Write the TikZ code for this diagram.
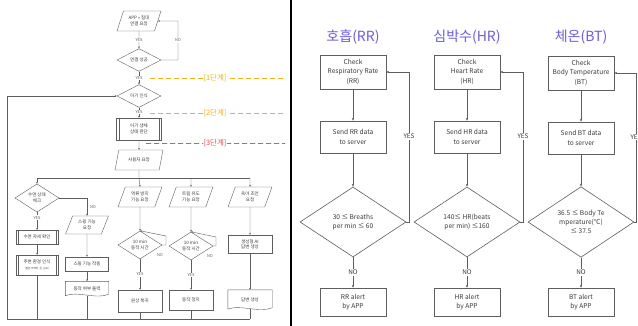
\documentclass[tikz,border=0pt]{standalone}
\usepackage{fontspec}
\setmainfont{Noto Sans CJK KR}
\usetikzlibrary{shapes.geometric,arrows.meta,calc}
\definecolor{ln}{HTML}{5E5E5E}
\definecolor{tx}{HTML}{3A3A3A}
\definecolor{pur}{HTML}{6A5CE6}
\definecolor{org}{HTML}{F5B21B}
\definecolor{rd}{HTML}{E8505A}
\newcommand{\docshape}[1]{\draw[lline] (#1.north west) -- (#1.north east) -- ([yshift=2.5pt]#1.south east) .. controls ([xshift=-12pt,yshift=-3pt]#1.south east) and ([xshift=12pt,yshift=6pt]#1.south west) .. ([yshift=1pt]#1.south west) -- cycle;}
\newcommand{\predefbox}[1]{\draw[lline] ([xshift=2.5pt]#1.north west) -- ([xshift=2.5pt]#1.south west); \draw[lline] ([xshift=-2.5pt]#1.north east) -- ([xshift=-2.5pt]#1.south east);}
\begin{document}
\begin{tikzpicture}[x=1pt,y=-1pt,
  lline/.style={draw=ln, line width=0.4pt},
  larr/.style={lline, -{Stealth[length=2pt,width=1.8pt]}},
  ltxt/.style={align=center, text=tx, font=\fontsize{4.5}{5.4}\selectfont, inner sep=0.3pt},
  lbox/.style={ltxt, lline, rectangle, minimum width=44pt},
  ldoc/.style={ltxt, rectangle, minimum width=44pt},
  para/.style={ltxt, lline, trapezium, trapezium left angle=66, trapezium right angle=114, trapezium stretches=true, minimum width=44pt, minimum height=20pt},
  dia/.style={ltxt, lline, diamond, minimum width=44pt, minimum height=18pt},
  ylab/.style={font=\fontsize{4}{4.5}\selectfont, text=ln, fill=white, inner sep=0.6pt},
  stage/.style={line width=0.85pt, dash pattern=on 4.5pt off 3.5pt},
  stlab/.style={font=\fontsize{7.4}{8}\selectfont, fill=white, inner sep=1pt},
  rline/.style={draw=ln, line width=0.6pt},
  rarr/.style={rline, -{Stealth[length=2.8pt,width=2.4pt]}},
  rbox/.style={rline, rectangle, minimum width=66pt, align=center, text=tx, font=\fontsize{6.6}{9.2}\selectfont},
  rdia/.style={rline, diamond, minimum width=106pt, minimum height=70pt, inner sep=0pt, align=center, text=tx, font=\fontsize{6.6}{9.2}\selectfont},
  rlab/.style={font=\fontsize{6.4}{7}\selectfont, text=tx, fill=white, inner sep=1pt},
  title/.style={font=\fontsize{14}{15}\selectfont, text=pur}
]
\useasboundingbox (0,0) rectangle (638,326);
\fill[white] (0,0) rectangle (638,326);

% ---------------- left panel ----------------
\node[para] (p1) at (139,21) {APP >> 침대\\연결 요청};
\node[dia, minimum height=17pt] (d1) at (139,60) {연결 성공};
\node[dia] (d2) at (139,96) {아기 인식};
\node[lbox, minimum width=45pt, minimum height=22pt] (b1) at (139,129) {아기 생체\\상태 판단};
\predefbox{b1}
\node[para, minimum width=48pt] (p2) at (139,160) {사용자 요청};

\draw[larr] (p1.south) -- (d1.north) node[midway, ylab] (yes1) {YES};
\draw[larr] (d1.east) -- (178,60) -- (178,21) node[midway, ylab] (no1) {NO} -- (p1.east);
\draw[larr] (d1.south) -- (d2.north) node[midway, ylab] (yes2) {YES};
\draw[larr] (d2.south) -- (b1.north) node[pos=0.45, ylab] (yes3) {YES};
\draw[larr] (b1.south) -- (p2.north);

\draw[stage, org] (150,78) -- (285,78);
\node[stlab, text=org] (s1) at (215,78) {[1단계]};
\draw[stage, org] (150,113) -- (285,113);
\node[stlab, text=org] (s2) at (215,113) {[2단계]};
\draw[stage, rd] (146,143) -- (285,143);
\node[stlab, text=rd] (s3) at (215,143) {[3단계]};

\coordinate (br0) at (139,178);
\coordinate (brL) at (37,178);
\coordinate (brR) at (250,178);
\draw[lline] (p2.south) -- (br0);
\draw[lline] (brL) -- (brR);

% column 1
\node[dia, minimum height=20pt] (d3) at (37,198) {수면 상태\\체크};
\node[lbox, minimum width=42pt, minimum height=14pt] (b2) at (37,237) {수면 자세 확인};
\predefbox{b2}
\node[lbox, minimum width=42pt, minimum height=20pt] (b3) at (37,265) {주변 환경 인식\\{\fontsize{2.6}{3}\selectfont (일반 카메라, 온·습도)}};
\predefbox{b3}
\draw[larr] (brL) -- (d3.north);
\draw[larr] (d3.south) -- (b2.north) node[pos=0.3, ylab] (yes4) {YES};
\draw[larr] (b2.south) -- (b3.north);

% column 2
\node[para, minimum width=43pt, minimum height=18pt] (p6) at (87,225) {스윙 기능\\요청};
\node[lbox, minimum width=43pt, minimum height=14pt] (b4) at (87,264) {스윙 기능 작동};
\node[ldoc, minimum width=43pt, minimum height=15pt] (doc1) at (87,289) {동작 여부 출력};
\docshape{doc1}
\draw[larr] (d3.east) -| (p6.north);
\node[ylab, fill=none] (no2) at (93,207) {NO};
\draw[larr] (p6.south) -- (b4.north);
\draw[larr] (b4.south) -- (doc1.north);

% column 3
\node[para] (p3) at (140,197) {역류 방지\\기능 요청};
\node[dia] (d4) at (140,245) {10 min\\동작 시간};
\node[lbox, minimum height=22pt] (b5) at (140,301) {원상 복귀};
\draw[larr] (br0) -- (p3.north);
\draw[larr] (p3.south) -- (d4.north);
\draw[larr] (d4.east) -- (166,245) -- (166,236) -- (d4.north);
\node[ylab, fill=none] (no3) at (160,255) {NO};
\draw[larr] (d4.south) -- (b5.north) node[midway, ylab] (yes5) {YES};

% column 4
\node[para] (p4) at (191,197) {트림 유도\\기능 요청};
\node[dia] (d5) at (191,246) {10 min\\동작 시간};
\node[lbox, minimum height=20pt] (b6) at (191,300) {동작 정지};
\draw[larr] (191,178) -- (p4.north);
\draw[larr] (p4.south) -- (d5.north);
\draw[larr] (d5.east) -- (216,246) -- (216,237) -- (d5.north);
\node[ylab, fill=none] (no4) at (210,256) {NO};
\draw[larr] (d5.south) -- (b6.north) node[midway, ylab] (yes6) {YES};

% column 5
\node[para] (p5) at (250,197) {육아 조언\\요청};
\node[lbox, minimum height=18pt] (b7) at (250,244) {생성형 AI\\답변 생성};
\node[ldoc, minimum height=20pt] (doc2) at (250,300) {답변 생성};
\docshape{doc2}
\draw[larr] (brR) -- (p5.north);
\draw[larr] (p5.south) -- (b7.north);
\draw[larr] (b7.south) -- (doc2.north);

% bottom collector and loop
\coordinate (bl) at (7,319);
\coordinate (bend) at (250,319);
\draw[lline] (bl) -- (bend);
\draw[lline] (b3.south) -- (37,319);
\draw[lline] ([yshift=1pt]doc1.south) -- (87,319);
\draw[lline] (b5.south) -- (140,319);
\draw[lline] (b6.south) -- (191,319);
\draw[lline] ([yshift=1pt]doc2.south) -- (bend);
\draw[larr] (bl) |- (d2.west);

% divider
\draw[black, line width=2.6pt] (291,0) -- (291,326);

% ---------------- right panel ----------------
\node[title] (t1) at (353,37) {호흡(RR)};
\node[title] (t2) at (467,37) {심박수(HR)};
\node[title] (t3) at (581,37) {체온(BT)};

% RR
\node[rbox, minimum height=34pt] (c1) at (353,72) {Check\\Respiratory Rate\\(RR)};
\node[rbox, minimum height=32pt] (sd1) at (353,137) {Send RR data\\to server};
\node[rdia] (q1) at (353,222) {30 ≤ Breaths\\per min ≤ 60};
\node[rbox, minimum height=28pt] (a1) at (353,302) {RR alert\\by APP};
\draw[rarr] (c1) -- (sd1);
\draw[rarr] (sd1) -- (q1);
\draw[rarr] (q1) -- (a1) node[midway, rlab] (n1) {NO};
\draw[rarr] (q1.east) -- (409,222) -- (409,72) node[pos=0.57, rlab] (ys1) {YES} -- (c1.east);

% HR
\node[rbox, minimum height=34pt] (c2) at (467,72) {Check\\Heart Rate\\(HR)};
\node[rbox, minimum height=32pt] (sd2) at (467,137) {Send HR data\\to server};
\node[rdia] (q2) at (467,222) {140≤ HR(beats\\per min) ≤160};
\node[rbox, minimum height=28pt] (a2) at (467,302) {HR alert\\by APP};
\draw[rarr] (c2) -- (sd2);
\draw[rarr] (sd2) -- (q2);
\draw[rarr] (q2) -- (a2) node[midway, rlab] (n2) {NO};
\draw[rarr] (q2.east) -- (523,222) -- (523,72) node[pos=0.57, rlab] (ys2) {YES} -- (c2.east);

% BT
\node[rbox, minimum height=34pt] (c3) at (581,73) {Check\\Body Temperature\\(BT)};
\node[rbox, minimum height=32pt] (sd3) at (581,138) {Send BT data\\to server};
\node[rdia] (q3) at (581,222) {36.5 ≤ Body Te\\mperature(℃)\\≤ 37.5};
\node[rbox, minimum height=28pt] (a3) at (581,302) {BT alert\\by APP};
\draw[rarr] (c3) -- (sd3);
\draw[rarr] (sd3) -- (q3);
\draw[rarr] (q3) -- (a3) node[midway, rlab] (n3) {NO};
\draw[rarr] (q3.east) -- (636,222) -- (636,73) node[pos=0.57, rlab] (ys3) {YES} -- (c3.east);
\end{tikzpicture}
\end{document}
